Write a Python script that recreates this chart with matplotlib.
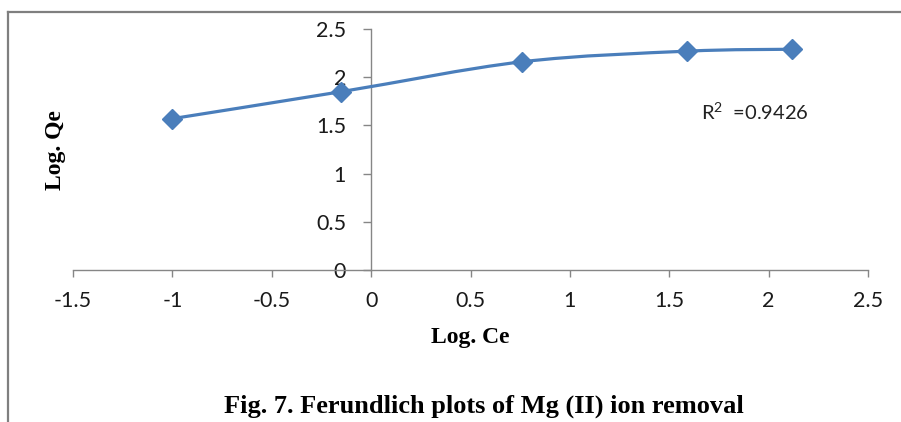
import matplotlib
matplotlib.use('Agg')
from matplotlib import pyplot as plt
from matplotlib.path import Path
from matplotlib.patches import PathPatch
from matplotlib.lines import Line2D
import numpy as np

plt.rcParams['mathtext.fontset'] = 'custom'
plt.rcParams['mathtext.rm'] = 'Lato'
plt.rcParams['mathtext.it'] = 'Lato'

# data
log_ce = [-1.0, -0.15, 0.76, 1.59, 2.12]
log_qe = [1.57, 1.85, 2.16, 2.27, 2.29]
x_ticks = [-1.5, -1, -0.5, 0, 0.5, 1, 1.5, 2, 2.5]
y_ticks = [0, 0.5, 1, 1.5, 2, 2.5]
r2_text = r'R$\mathrm{^{2}}$  =0.9426'

line_col = '#4a7ebb'
axis_col = '#868686'

fig = plt.figure(figsize=(9.01, 4.22), dpi=100)
ax = fig.add_axes([73 / 901, 1 - 270 / 422, (868 - 73) / 901, (270 - 29) / 422])
ax.set_xlim(-1.5, 2.5)
ax.set_ylim(0, 2.5)

# smooth line like Excel (bezier through the points)
pts = np.column_stack([log_ce, log_qe])
verts = [pts[0]]
codes = [Path.MOVETO]
n = len(pts)
for i in range(n - 1):
    p0 = pts[i - 1] if i > 0 else pts[i]
    p1 = pts[i]
    p2 = pts[i + 1]
    p3 = pts[i + 2] if i + 2 < n else pts[i + 1]
    c1 = p1 + (p2 - p0) / 6
    c2 = p2 - (p3 - p1) / 6
    verts += [c1, c2, p2]
    codes += [Path.CURVE4] * 3
ax.add_patch(PathPatch(Path(verts, codes), fill=False, edgecolor=line_col,
                       lw=2.3, zorder=3))
ax.plot(log_ce, log_qe, ls='none', marker='D', ms=10, color=line_col, zorder=4)

ax.text(1.66, 1.64, r2_text, fontsize=14.5, family='Lato', color='#222222',
        va='center', ha='left')

# axes crossing at zero
for s in ['top', 'right']:
    ax.spines[s].set_visible(False)
ax.spines['left'].set_position(('data', 0))
for s in ['left', 'bottom']:
    ax.spines[s].set_color(axis_col)
    ax.spines[s].set_linewidth(1.0)
ax.set_xticks(x_ticks)
ax.set_yticks(y_ticks)
ax.set_xticklabels([f'{v:g}' for v in x_ticks])
ax.set_yticklabels([f'{v:g}' for v in y_ticks])
ax.tick_params(axis='x', direction='out', length=5, width=1, color=axis_col,
               pad=10, labelsize=15.5)
ax.tick_params(axis='y', direction='out', length=6, width=1, color=axis_col,
               pad=12, labelsize=15.5)
for lab in ax.get_xticklabels() + ax.get_yticklabels():
    lab.set_family('Lato')
    lab.set_color('#1a1a1a')

fig.text(55 / 901, 1 - 150 / 422, 'Log. Qe', rotation=90, ha='center', va='center',
         fontsize=17, fontweight='bold', family='Liberation Serif')
fig.text(470 / 901, 1 - 337 / 422, 'Log. Ce', ha='center', va='center',
         fontsize=17, fontweight='bold', family='Liberation Serif')
fig.text(484 / 901, 1 - 406 / 422, 'Fig. 7. Ferundlich plots of Mg (II) ion removal',
         ha='center', va='center', fontsize=19, fontweight='bold',
         family='Liberation Serif')

# outer frame (top and left edges visible)
fig.add_artist(Line2D([8 / 901, 1], [1 - 12 / 422] * 2, color='#7f7f7f', lw=1.6,
                      transform=fig.transFigure))
fig.add_artist(Line2D([8 / 901] * 2, [0, 1 - 12 / 422], color='#7f7f7f', lw=1.6,
                      transform=fig.transFigure))

fig.savefig('out.png', dpi=100)
